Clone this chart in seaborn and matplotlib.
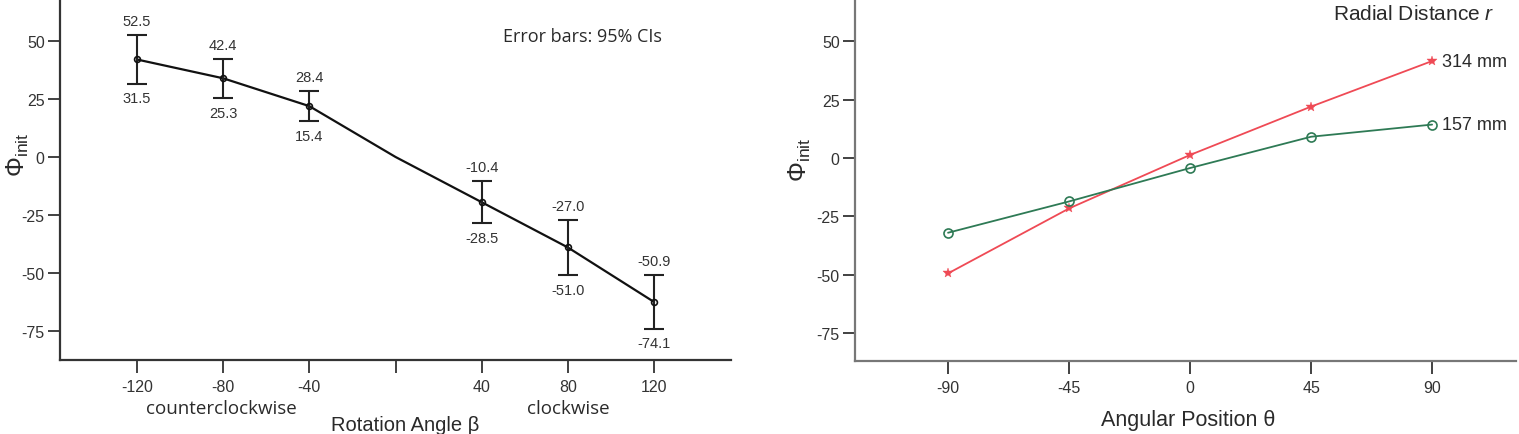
import numpy as np
import pandas as pd
import matplotlib
matplotlib.use("Agg")
import matplotlib.pyplot as plt
import seaborn as sns

# ---- data: left panel ----
beta = [-120, -80, -40, 40, 80, 120]
phi_mean = [42.0, 33.9, 21.9, -19.5, -39.0, -62.5]
ci_low = [31.5, 25.3, 15.4, -28.5, -51.0, -74.1]
ci_high = [52.5, 42.4, 28.4, -10.4, -27.0, -50.9]
# the connecting line passes through (0, 0)
line_beta = [-120, -80, -40, 0, 40, 80, 120]
line_phi = [42.0, 33.9, 21.9, 0.0, -19.5, -39.0, -62.5]
left_ticks = [-120, -80, -40, 0, 40, 80, 120]
left_ticklabels = ["-120", "-80", "-40", "", "40", "80", "120"]

# ---- data: right panel ----
theta = [-90, -45, 0, 45, 90]
phi_314 = [-49.4, -21.6, 1.3, 22.0, 41.5]
phi_157 = [-32.0, -18.6, -4.3, 9.1, 14.3]
series_names = ["314 mm", "157 mm"]
right_ticks = [-90, -45, 0, 45, 90]
y_ticks = [50, 25, 0, -25, -50, -75]

sns.set_theme(style="ticks")
plt.rcParams["font.family"] = ["Liberation Sans", "DejaVu Sans"]
plt.rcParams["axes.unicode_minus"] = False
plt.rcParams["mathtext.fontset"] = "custom"
plt.rcParams["mathtext.rm"] = "Liberation Sans"
plt.rcParams["mathtext.it"] = "Liberation Sans:italic"

fig = plt.figure(figsize=(15.19, 4.35), dpi=100)
axL = fig.add_axes([60 / 1519, 1 - 361 / 435, (731 - 60) / 1519, (361 - 2) / 435])
axR = fig.add_axes([855 / 1519, 1 - 362 / 435, (1516 - 855) / 1519, (362 - 2) / 435])

TXT = "#2a2a2a"

# ---------- left panel ----------
dfL = pd.DataFrame({"beta": line_beta, "phi": line_phi})
sns.lineplot(data=dfL, x="beta", y="phi", ax=axL, color="#111111", linewidth=1.6,
             sort=False, legend=False)
mean = np.array(phi_mean)
yerr = np.vstack([mean - np.array(ci_low), np.array(ci_high) - mean])
axL.errorbar(beta, phi_mean, yerr=yerr, fmt="none", ecolor="#222222",
             elinewidth=1.5, capsize=7.5, capthick=1.5, zorder=3)
axL.plot(beta, phi_mean, linestyle="none", marker="o", markersize=4.2,
         markerfacecolor="none", markeredgecolor="#111111", markeredgewidth=1.2, zorder=4)
for b, lo, hi in zip(beta, ci_low, ci_high):
    axL.annotate(f"{hi:.1f}", (b, hi), xytext=(0, 10), textcoords="offset points",
                 ha="center", va="center", fontsize=10.5, color="#333333")
    axL.annotate(f"{lo:.1f}", (b, lo), xytext=(0, -10.5), textcoords="offset points",
                 ha="center", va="center", fontsize=10.5, color="#333333")

axL.set_xlim(-155.7, 155.7)
axL.set_ylim(-87.5, 67.2)
axL.set_xticks(left_ticks)
axL.set_xticklabels(left_ticklabels)
axL.set_yticks(y_ticks)
axL.set_yticklabels([str(v) for v in y_ticks])
axL.set_xlabel("")
axL.set_ylabel("")
axL.text((582 - 60) / 671, 1 - (37 - 2) / 359, "Error bars: 95% CIs", transform=axL.transAxes,
         ha="center", va="center", fontsize=13, family=["Open Sans", "DejaVu Sans"], color=TXT)
fig.text(221 / 1519, 1 - 409 / 435, "counterclockwise", ha="center", va="center",
         fontsize=13.5, family=["Open Sans", "DejaVu Sans"], color=TXT)
fig.text(568 / 1519, 1 - 409 / 435, "clockwise", ha="center", va="center",
         fontsize=13.5, family=["Open Sans", "DejaVu Sans"], color=TXT)
fig.text(405 / 1519, 1 - 426 / 435, "Rotation Angle β", ha="center", va="center",
         fontsize=14.5, color=TXT)
fig.text(18 / 1519, 1 - 155 / 435, r"$\Phi_{\mathrm{init}}$", rotation=90,
         ha="center", va="center", fontsize=18, color=TXT)

# ---------- right panel ----------
dfR = pd.DataFrame({
    "theta": theta * 2,
    "phi": phi_314 + phi_157,
    "r": [series_names[0]] * len(theta) + [series_names[1]] * len(theta),
})
palette = {"314 mm": "#ef4a55", "157 mm": "#2e7a55"}
sns.lineplot(data=dfR, x="theta", y="phi", hue="r", style="r", ax=axR,
             palette=palette, markers={"314 mm": "*", "157 mm": "o"}, dashes=False,
             linewidth=1.3, markersize=7, legend=False)
for line in axR.lines:
    c = line.get_color()
    if line.get_marker() == "o":
        line.set_markerfacecolor("none")
        line.set_markeredgecolor(c)
        line.set_markeredgewidth(1.2)
        line.set_markersize(6.5)
    else:
        line.set_markerfacecolor(c)
        line.set_markeredgecolor(c)
        line.set_markeredgewidth(0.3)
        line.set_markersize(7.5)
axR.annotate("314 mm", (theta[-1], phi_314[-1]), xytext=(7, 0), textcoords="offset points",
             ha="left", va="center", fontsize=13, color=TXT)
axR.annotate("157 mm", (theta[-1], phi_157[-1]), xytext=(7, 0), textcoords="offset points",
             ha="left", va="center", fontsize=13, color=TXT)
axR.text(1333 / 1519, 1 - 14 / 435, "Radial Distance $\\it{r}$", transform=fig.transFigure,
         ha="left", va="center", fontsize=15, color=TXT)

axR.set_xlim(-124.6, 121.2)
axR.set_ylim(-86.9, 67.2)
axR.set_xticks(right_ticks)
axR.set_xticklabels([str(v) for v in right_ticks])
axR.set_yticks(y_ticks)
axR.set_yticklabels([str(v) for v in y_ticks])
axR.set_xlabel("")
axR.set_ylabel("")
fig.text(1188 / 1519, 1 - 421 / 435, "Angular Position θ", ha="center", va="center",
         fontsize=15.5, color=TXT)
fig.text(800 / 1519, 1 - 160 / 435, r"$\Phi_{\mathrm{init}}$", rotation=90,
         ha="center", va="center", fontsize=18, color=TXT)

# ---------- styling ----------
for ax, sc in ((axL, "#333333"), (axR, "#777777")):
    sns.despine(ax=ax)
    for s in ("left", "bottom"):
        ax.spines[s].set_color(sc)
        ax.spines[s].set_linewidth(1.6)
    ax.tick_params(axis="both", direction="out", length=9, width=1.3, color="#333333",
                   labelsize=11.5, labelcolor="#333333")
    ax.tick_params(axis="y", pad=2)
    ax.tick_params(axis="x", pad=5)
    ax.set_facecolor("white")

fig.savefig("out.png", dpi=100, facecolor="white")
